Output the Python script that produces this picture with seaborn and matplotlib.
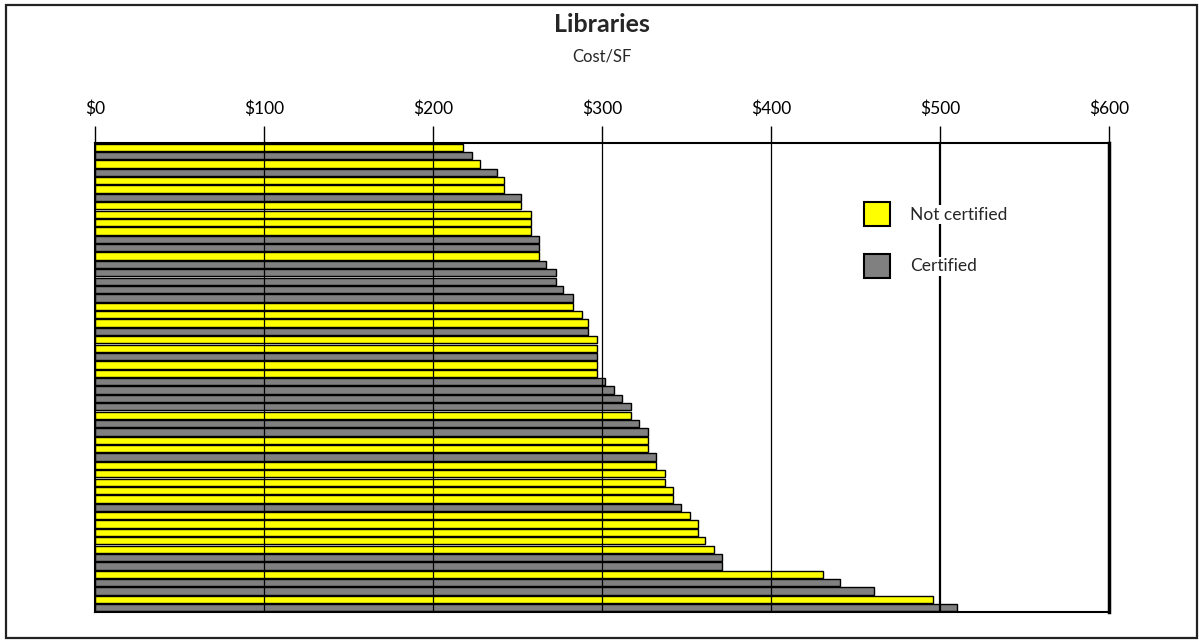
import pandas as pd
import seaborn as sns
from matplotlib import pyplot as plt
from matplotlib.patches import Patch, Rectangle

# cost per square foot, top bar first
costs = [218, 223, 228, 238, 242, 242, 252, 252, 258, 258,
         258, 263, 263, 263, 267, 273, 273, 277, 283, 283,
         288, 292, 292, 297, 297, 297, 297, 297, 302, 307,
         312, 317, 317, 322, 327, 327, 327, 332, 332, 337,
         337, 342, 342, 347, 352, 357, 357, 361, 366, 371,
         371, 431, 441, 461, 496, 510]
# N = not certified, C = certified
status_codes = "NCNCNNCNNNNCCNCCCCCNNNCNNCNNCCCCNCCNNCNNNNNCNNNNNCCNCCNC"
status_names = {"N": "Not certified", "C": "Certified"}
legend_order = ["Not certified", "Certified"]
colors = {"Not certified": "#FFFF00", "Certified": "#808080"}

tick_values = [0, 100, 200, 300, 400, 500, 600]
tick_labels = ["$0", "$100", "$200", "$300", "$400", "$500", "$600"]

df = pd.DataFrame({
    "row": [str(i + 1) for i in range(len(costs))],
    "cost": costs,
    "status": [status_names[c] for c in status_codes],
})

sns.set_style("white")
plt.rcParams["font.family"] = ["Lato", "DejaVu Sans"]

fig = plt.figure(figsize=(11.99, 6.4), dpi=100)
ax = fig.add_axes([95 / 1199, 1 - 612 / 640, (1109 - 95) / 1199, (612 - 143) / 640])

sns.barplot(data=df, x="cost", y="row", hue="status", order=list(df["row"]),
            hue_order=legend_order, palette=colors, dodge=False, orient="h",
            width=0.86, edgecolor="black", linewidth=1.0, legend=False,
            saturation=1, ax=ax)

ax.set_xlim(0, 600)
ax.set_xticks(tick_values)
ax.set_xticklabels(tick_labels)
ax.xaxis.tick_top()
ax.tick_params(axis="x", top=True, bottom=False, labeltop=True, labelbottom=False,
               direction="out", length=12, width=1, pad=7, labelsize=12.5, colors="black")
ax.tick_params(axis="y", left=False, labelleft=False)
ax.set_xlabel("")
ax.set_ylabel("")

# vertical gridlines drawn on top of the bars
ax.set_axisbelow(False)
for v in tick_values[1:-1]:
    ax.axvline(v, color="black", lw=1.6 if v == 500 else 0.9, zorder=2.5)

for side in ["top", "left", "bottom"]:
    ax.spines[side].set_visible(True)
    ax.spines[side].set_color("black")
    ax.spines[side].set_linewidth(1.5)
ax.spines["right"].set_visible(True)
ax.spines["right"].set_color("black")
ax.spines["right"].set_linewidth(2.5)

handles = [Patch(facecolor=colors[k], edgecolor="black", linewidth=1.5, label=k)
           for k in legend_order]
leg = ax.legend(handles=handles, loc="upper left",
                bbox_to_anchor=(864 / 1199, 1 - 202 / 640), bbox_transform=fig.transFigure,
                frameon=False, fontsize=12.5, handlelength=1.5, handleheight=1.75,
                handletextpad=1.15, labelspacing=1.6, borderpad=0, borderaxespad=0)
for t in leg.get_texts():
    t.set_bbox(dict(facecolor="white", edgecolor="none", pad=1))

fig.text(602 / 1199, 1 - 25 / 640, "Libraries", ha="center", va="center",
         fontsize=18, fontweight="bold")
fig.text(602 / 1199, 1 - 57 / 640, "Cost/SF", ha="center", va="center", fontsize=12)

# outer chart border
fig.patches.append(Rectangle((6 / 1199, 2 / 640), 1191 / 1199, 633 / 640,
                             transform=fig.transFigure, fill=False,
                             edgecolor="#222222", linewidth=1.6))

plt.savefig("out.png", dpi=100)
